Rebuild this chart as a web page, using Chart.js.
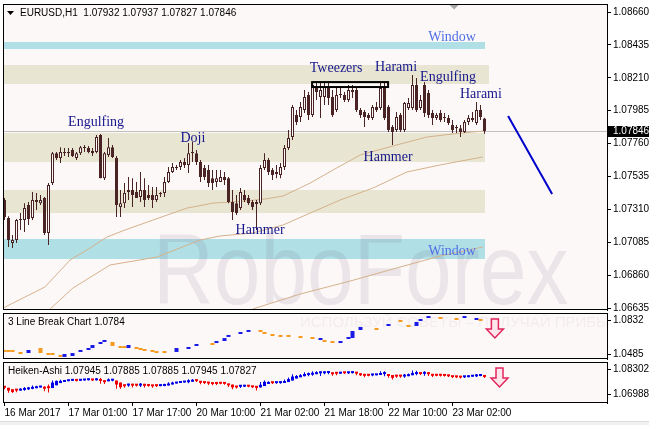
<!DOCTYPE html>
<html>
<head>
<meta charset="utf-8">
<title>EURUSD H1</title>
<script src="https://cdn.jsdelivr.net/npm/chart.js@4.4.1/dist/chart.umd.min.js"></script>
<style>
  html, body { margin: 0; padding: 0; background: #ffffff; }
  #wrap { position: relative; width: 649px; height: 425px; overflow: hidden; }
  #wrap canvas { position: absolute; left: 0; }
  #foot { position: absolute; left: 0; top: 421px; width: 649px; height: 4px; background: #f0f0f0; border-top: 1px solid #dcdcdc; }
</style>
</head>
<body>
<div id="wrap">
  <canvas id="mainChart" width="649" height="318" style="top:0"></canvas>
  <canvas id="lineBreak" width="649" height="56" style="top:309px"></canvas>
  <canvas id="heiken" width="649" height="67" style="top:358px"></canvas>
  <div id="foot"></div>
</div>
<script>
// EURUSD H1 candles, 16 Mar 09:00 .. 23 Mar 05:00
const opens = [
  1.07374, 1.07251, 1.07080, 1.07100, 1.07237, 1.07237, 1.07340, 1.07251, 1.07374, 1.07353,
  1.07388, 1.07148, 1.07490, 1.07695, 1.07661, 1.07702, 1.07695, 1.07716, 1.07661, 1.07695,
  1.07730, 1.07730, 1.07709, 1.07702, 1.07819, 1.07524, 1.07682, 1.07736, 1.07661, 1.07326,
  1.07353, 1.07429, 1.07442, 1.07429, 1.07395, 1.07442, 1.07408, 1.07408, 1.07374, 1.07415,
  1.07422, 1.07497, 1.07566, 1.07593, 1.07600, 1.07634, 1.07613, 1.07702, 1.07695, 1.07634,
  1.07593, 1.07579, 1.07524, 1.07497, 1.07497, 1.07531, 1.07524, 1.07360, 1.07353, 1.07319,
  1.07408, 1.07388, 1.07360, 1.07347, 1.07353, 1.07593, 1.07648, 1.07579, 1.07566, 1.07545,
  1.07600, 1.07730, 1.07805, 1.07955, 1.07942, 1.07990, 1.08092, 1.07955, 1.08147, 1.08079,
  1.08079, 1.08147, 1.08079, 1.07990, 1.08092, 1.08092, 1.08058, 1.08126, 1.08126, 1.07990,
  1.07976, 1.07955, 1.07935, 1.08010, 1.08003, 1.08140, 1.08010, 1.07873, 1.07853, 1.07955,
  1.07853, 1.08003, 1.08003, 1.08161, 1.08003, 1.08161, 1.08106, 1.07969, 1.07935, 1.07969,
  1.07942, 1.07935, 1.07887, 1.07873, 1.07866, 1.07839, 1.07908, 1.07921, 1.07901, 1.07990,
  1.07932
];
const highs = [
  1.07388, 1.07264, 1.07135, 1.07244, 1.07285, 1.07353, 1.07360, 1.07429, 1.07422, 1.07408,
  1.07395, 1.07490, 1.07702, 1.07702, 1.07736, 1.07730, 1.07730, 1.07730, 1.07702, 1.07743,
  1.07750, 1.07743, 1.07730, 1.07819, 1.07826, 1.07702, 1.07798, 1.07750, 1.07675, 1.07442,
  1.07490, 1.07531, 1.07524, 1.07497, 1.07566, 1.07524, 1.07477, 1.07463, 1.07463, 1.07429,
  1.07531, 1.07600, 1.07627, 1.07613, 1.07648, 1.07661, 1.07764, 1.07771, 1.07716, 1.07648,
  1.07613, 1.07613, 1.07579, 1.07579, 1.07579, 1.07566, 1.07531, 1.07442, 1.07408, 1.07456,
  1.07442, 1.07408, 1.07374, 1.07374, 1.07613, 1.07695, 1.07661, 1.07593, 1.07613, 1.07627,
  1.07750, 1.07853, 1.08024, 1.07990, 1.08044, 1.08126, 1.08113, 1.08181, 1.08181, 1.08174,
  1.08181, 1.08181, 1.08126, 1.08140, 1.08140, 1.08113, 1.08161, 1.08161, 1.08140, 1.08003,
  1.07990, 1.07969, 1.08024, 1.08044, 1.08181, 1.08181, 1.08024, 1.07887, 1.07976, 1.07969,
  1.08044, 1.08072, 1.08229, 1.08208, 1.08092, 1.08181, 1.08126, 1.07990, 1.07969, 1.07990,
  1.07969, 1.07955, 1.07921, 1.07887, 1.07887, 1.07921, 1.07955, 1.07976, 1.08044, 1.08024,
  1.07937
];
const lows = [
  1.07237, 1.07053, 1.07046, 1.07080, 1.07169, 1.07155, 1.07203, 1.07237, 1.07306, 1.07340,
  1.07135, 1.07066, 1.07477, 1.07648, 1.07627, 1.07675, 1.07668, 1.07668, 1.07648, 1.07682,
  1.07702, 1.07695, 1.07675, 1.07695, 1.07524, 1.07511, 1.07668, 1.07661, 1.07258, 1.07258,
  1.07319, 1.07374, 1.07326, 1.07388, 1.07360, 1.07326, 1.07374, 1.07319, 1.07360, 1.07395,
  1.07395, 1.07490, 1.07559, 1.07579, 1.07579, 1.07593, 1.07559, 1.07634, 1.07613, 1.07497,
  1.07511, 1.07463, 1.07442, 1.07463, 1.07497, 1.07477, 1.07353, 1.07237, 1.07271, 1.07306,
  1.07360, 1.07340, 1.07306, 1.07169, 1.07340, 1.07579, 1.07545, 1.07511, 1.07524, 1.07524,
  1.07579, 1.07716, 1.07784, 1.07887, 1.07908, 1.07969, 1.07921, 1.07942, 1.08058, 1.07935,
  1.08024, 1.08024, 1.07942, 1.07976, 1.08072, 1.08044, 1.08044, 1.08072, 1.07976, 1.07935,
  1.07873, 1.07921, 1.07921, 1.07976, 1.07990, 1.07921, 1.07839, 1.07750, 1.07839, 1.07839,
  1.07839, 1.07990, 1.07990, 1.07976, 1.07990, 1.07942, 1.07935, 1.07887, 1.07921, 1.07908,
  1.07908, 1.07887, 1.07832, 1.07832, 1.07805, 1.07832, 1.07887, 1.07908, 1.07887, 1.07921,
  1.07827
];
const closes = [
  1.07258, 1.07100, 1.07100, 1.07237, 1.07244, 1.07319, 1.07244, 1.07374, 1.07360, 1.07374,
  1.07148, 1.07477, 1.07695, 1.07661, 1.07702, 1.07695, 1.07702, 1.07675, 1.07695, 1.07736,
  1.07736, 1.07702, 1.07695, 1.07805, 1.07524, 1.07695, 1.07736, 1.07668, 1.07340, 1.07353,
  1.07422, 1.07442, 1.07408, 1.07388, 1.07442, 1.07374, 1.07388, 1.07374, 1.07408, 1.07422,
  1.07497, 1.07566, 1.07600, 1.07600, 1.07634, 1.07613, 1.07695, 1.07695, 1.07634, 1.07531,
  1.07531, 1.07490, 1.07490, 1.07524, 1.07531, 1.07511, 1.07360, 1.07292, 1.07285, 1.07429,
  1.07374, 1.07353, 1.07326, 1.07360, 1.07593, 1.07648, 1.07566, 1.07545, 1.07552, 1.07600,
  1.07730, 1.07798, 1.08010, 1.07908, 1.08010, 1.08079, 1.07955, 1.08161, 1.08113, 1.08126,
  1.08147, 1.08072, 1.07955, 1.08092, 1.08099, 1.08058, 1.08126, 1.08113, 1.07990, 1.07955,
  1.07942, 1.07935, 1.08010, 1.07990, 1.08140, 1.07935, 1.07853, 1.07839, 1.07942, 1.07853,
  1.08037, 1.08037, 1.08161, 1.07990, 1.08058, 1.07969, 1.07955, 1.07935, 1.07955, 1.07921,
  1.07935, 1.07901, 1.07853, 1.07866, 1.07839, 1.07908, 1.07935, 1.07935, 1.07990, 1.07942,
  1.07846
];

// moving averages (bar position, price) read at points along each curve
const maFastBar = [-0.4, 10.1, 16.4, 21.4, 25.6, 30.1, 37.1, 45.6, 52.1, 60.1, 65.1, 69.6, 76.4, 82.1, 88.9, 98.9, 105.6, 113.9, 119.9];
const maFastPrice = [1.06635, 1.06779, 1.06964, 1.07046, 1.07121, 1.07169, 1.07237, 1.07319, 1.07353, 1.07367, 1.07381, 1.07401, 1.07490, 1.07579, 1.07682, 1.07757, 1.07805, 1.07832, 1.07846];
const maMidBar = [11.4, 17.1, 26.4, 38.1, 48.9, 53.9, 62.1, 69.6, 76.4, 83.9, 92.1, 100.6, 108.9, 119.6];
const maMidPrice = [1.06629, 1.06772, 1.06930, 1.06984, 1.07101, 1.07128, 1.07149, 1.07203, 1.07285, 1.07374, 1.07456, 1.07566, 1.07614, 1.07669];
const maSlowBar = [62.1, 73.9, 86.4, 98.9, 108.9, 119.6];
const maSlowPrice = [1.06629, 1.06731, 1.06820, 1.06916, 1.06991, 1.07053];

// support / resistance zones and windows
const bandLow = [1.08407, 1.08167, 1.07634, 1.07285, 1.06970];
const bandHigh = [1.08455, 1.08297, 1.07832, 1.07442, 1.07107];
const bandEnd = [120, 121, 120, 120, 120];
const bandKind = ['window', 'zone', 'zone', 'zone', 'window'];

// pattern captions
const patternNames = ['Window', 'Tweezers', 'Harami', 'Engulfing', 'Harami', 'Engulfing', 'Doji', 'Hammer', 'Hammer', 'Window'];
const patternBar = [111.9, 82.9, 97.9, 110.9, 119.1, 22.9, 47.1, 63.9, 95.9, 111.9];
const patternPrice = [1.08489, 1.08277, 1.08284, 1.08215, 1.08099, 1.07908, 1.07798, 1.07169, 1.07668, 1.07025];

// tweezers frame and forecast line
const tweezersBar = [76.9, 95.9];
const tweezersPrice = [1.08181, 1.08147];
const trendBar = [125.9, 136.9];
const trendPrice = [1.07949, 1.07415];

// 3 Line Break bricks
const lbBar = [0, 1, 2, 4, 6, 9, 11, 12, 14, 15, 17, 19, 21, 22, 24, 25, 27, 29, 30, 31,
  33, 34, 35, 37, 38, 40, 43, 46, 48, 52, 53, 55, 56, 59, 61, 64, 65, 67, 69, 71,
  74, 77, 79, 80, 82, 84, 86, 87, 89, 93, 96, 99, 101, 103, 104, 106, 109, 113, 115, 118, 119];
const lbHigh = [1.0516, 1.0516, 1.0516, 1.0495, 1.0526, 1.0546, 1.0485, 1.0485, 1.0465, 1.0485,
  1.0495, 1.0526, 1.0546, 1.0577, 1.0608, 1.0628, 1.0608, 1.0557, 1.0557, 1.0577,
  1.0546, 1.0536, 1.0526, 1.0516, 1.0506, 1.0506, 1.0546, 1.0557, 1.0577, 1.0587,
  1.0608, 1.0648, 1.0669, 1.0699, 1.0720, 1.0730, 1.0699, 1.0679, 1.0669, 1.0669,
  1.0659, 1.0648, 1.0638, 1.0618, 1.0608, 1.0618, 1.0648, 1.0720, 1.0761, 1.0750,
  1.0781, 1.0822, 1.0771, 1.0812, 1.0832, 1.0863, 1.0852, 1.0842, 1.0863, 1.0852, 1.0832];
const lbLow = [1.0506, 1.0506, 1.0506, 1.0485, 1.0495, 1.0495, 1.0475, 1.0475, 1.0455, 1.0455,
  1.0465, 1.0506, 1.0526, 1.0546, 1.0587, 1.0608, 1.0567, 1.0546, 1.0546, 1.0546,
  1.0536, 1.0526, 1.0516, 1.0506, 1.0495, 1.0495, 1.0506, 1.0536, 1.0567, 1.0577,
  1.0597, 1.0618, 1.0659, 1.0689, 1.0710, 1.0710, 1.0689, 1.0669, 1.0659, 1.0659,
  1.0648, 1.0638, 1.0628, 1.0608, 1.0597, 1.0597, 1.0638, 1.0648, 1.0730, 1.0730,
  1.0771, 1.0812, 1.0761, 1.0771, 1.0822, 1.0852, 1.0842, 1.0832, 1.0852, 1.0832, 1.0822];
const lbUp = [0, 0, 0, 0, 1, 0, 0, 0, 0, 1, 1, 1, 1, 1, 1, 1, 0, 0, 0, 1,
  0, 0, 0, 0, 0, 0, 1, 1, 1, 0, 1, 1, 1, 1, 1, 0, 0, 0, 0, 0,
  0, 0, 1, 0, 0, 1, 1, 1, 1, 0, 1, 0, 0, 1, 1, 1, 0, 0, 1, 1, 0];

// axes
const timeBars = [0, 16, 32, 48, 64, 80, 96, 112];
const timeLabels = ['16 Mar 2017', '17 Mar 01:00', '17 Mar 17:00', '20 Mar 10:00', '21 Mar 02:00', '21 Mar 18:00', '22 Mar 10:00', '23 Mar 02:00'];
const priceTicks = [1.08660, 1.08435, 1.08210, 1.07985, 1.07760, 1.07535, 1.07310, 1.07085, 1.06860, 1.06635];
const lbTicks = [1.0832, 1.0485];
const haTicks = [1.08302, 1.06988];

const FONT = "'Liberation Sans', Arial, sans-serif";
const SERIF = "'Liberation Serif', 'Times New Roman', serif";
const BG = '#fdf8f8';
const DARK = '#4a2424';
const TAN = '#d4b28c';
const WATERMARK = 'rgba(110,100,130,0.12)';

Chart.defaults.font.family = FONT;

// heiken-ashi from the candles above
const haOpen = [], haClose = [], haHigh = [], haLow = [];
for (let i = 0; i < closes.length; i++) {
  const c = (opens[i] + highs[i] + lows[i] + closes[i]) / 4;
  const o = i === 0 ? (opens[0] + closes[0]) / 2 : (haOpen[i - 1] + haClose[i - 1]) / 2;
  haOpen.push(o);
  haClose.push(c);
  haHigh.push(Math.max(highs[i], o, c));
  haLow.push(Math.min(lows[i], o, c));
}

const bars = closes.map((_, i) => i);

function xAxis(show) {
  return {
    type: 'linear', min: -0.375, max: 150.625, offset: false, display: show,
    afterFit(a) { a.paddingLeft = 0; a.paddingRight = 0; if (show) a.height = 22; },
    afterBuildTicks(a) { a.ticks = timeBars.map(v => ({ value: v })); },
    grid: { offset: false, drawOnChartArea: false, drawTicks: true, tickLength: 3, color: '#000' },
    border: { display: false },
    ticks: {
      align: 'start', padding: 1, color: '#000', font: { size: 10 }, maxRotation: 0, minRotation: 0, autoSkip: false,
      callback: (v, i) => timeLabels[i]
    }
  };
}

function yAxis(min, max, list, dec) {
  return {
    type: 'linear', position: 'right', min, max,
    afterFit(a) { a.width = 42; a.paddingTop = 0; a.paddingBottom = 0; },
    afterBuildTicks(a) { a.ticks = list.map(v => ({ value: v })); },
    grid: { drawOnChartArea: false, tickLength: 4, color: '#000' },
    border: { display: true, color: '#000' },
    ticks: { padding: 2, color: '#000', font: { size: 10 }, autoSkip: false, callback: v => v.toFixed(dec) }
  };
}

function baseOptions(pad, xShow, yMin, yMax, yList, dec) {
  return {
    responsive: false, animation: false, events: [],
    layout: { padding: pad },
    plugins: { legend: { display: false }, tooltip: { enabled: false } },
    scales: { x: xAxis(xShow), y: yAxis(yMin, yMax, yList, dec) }
  };
}

function drawDownArrow(ctx, cx, top) {
  ctx.beginPath();
  ctx.moveTo(cx - 3.5, top);
  ctx.lineTo(cx + 3.5, top);
  ctx.lineTo(cx + 3.5, top + 10);
  ctx.lineTo(cx + 8.5, top + 10);
  ctx.lineTo(cx, top + 19);
  ctx.lineTo(cx - 8.5, top + 10);
  ctx.lineTo(cx - 3.5, top + 10);
  ctx.closePath();
  ctx.fillStyle = '#fce6ec';
  ctx.fill();
  ctx.strokeStyle = '#e2265c';
  ctx.lineWidth = 1.5;
  ctx.stroke();
}

const mainDeco = {
  id: 'mainDeco',
  beforeDatasetsDraw(chart) {
    const { ctx, chartArea: a, scales: { x, y } } = chart;
    ctx.save();
    ctx.fillStyle = BG;
    ctx.fillRect(a.left, a.top, a.width, a.height);
    ctx.beginPath();
    ctx.rect(a.left, a.top, a.width, a.height);
    ctx.clip();
    bandLow.forEach((lo, k) => {
      const top = Math.round(y.getPixelForValue(bandHigh[k]));
      const bot = Math.round(y.getPixelForValue(lo));
      const right = Math.round(x.getPixelForValue(bandEnd[k]));
      ctx.fillStyle = bandKind[k] === 'window' ? '#b0dfe5' : '#e8e6d3';
      ctx.fillRect(a.left, top, right - a.left, bot - top);
    });
    // watermark
    ctx.fillStyle = WATERMARK;
    ctx.font = '100px ' + FONT;
    ctx.textBaseline = 'alphabetic';
    ctx.save();
    ctx.translate(a.left + 150, a.top + 300);
    ctx.scale(0.84, 1);
    ctx.fillText('RoboForex', 0, 0);
    ctx.restore();
    // current bid line
    const py = Math.floor(y.getPixelForValue(closes[closes.length - 1])) + 0.5;
    ctx.strokeStyle = '#c0c0c0';
    ctx.lineWidth = 1;
    ctx.beginPath();
    ctx.moveTo(a.left, py);
    ctx.lineTo(a.right, py);
    ctx.stroke();
    ctx.restore();
  },
  afterDatasetsDraw(chart) {
    const { ctx, chartArea: a, scales: { x, y } } = chart;
    ctx.save();
    ctx.beginPath();
    ctx.rect(a.left, a.top, a.width, a.height);
    ctx.clip();
    // tweezers frame
    const fx1 = x.getPixelForValue(tweezersBar[0]), fx2 = x.getPixelForValue(tweezersBar[1]);
    const fy1 = y.getPixelForValue(tweezersPrice[0]), fy2 = y.getPixelForValue(tweezersPrice[1]);
    ctx.strokeStyle = '#000';
    ctx.lineWidth = 2;
    ctx.strokeRect(fx1, fy1, fx2 - fx1, fy2 - fy1);
    // captions
    ctx.font = '14px ' + SERIF;
    ctx.textAlign = 'center';
    ctx.textBaseline = 'middle';
    patternNames.forEach((name, k) => {
      ctx.fillStyle = name === 'Window' ? '#4f6fe6' : '#16168c';
      ctx.fillText(name, x.getPixelForValue(patternBar[k]), y.getPixelForValue(patternPrice[k]));
    });
    ctx.restore();
  },
  afterDraw(chart) {
    const { ctx, chartArea: a, scales: { x, y } } = chart;
    ctx.save();
    ctx.strokeStyle = '#000';
    ctx.lineWidth = 1;
    ctx.strokeRect(a.left + 0.5, a.top + 0.5, a.width, a.height - 1);
    // last price tag
    const last = closes[closes.length - 1];
    const py = y.getPixelForValue(last);
    ctx.fillStyle = '#000';
    ctx.fillRect(a.right + 1, Math.round(py) - 5, 42, 11);
    ctx.fillStyle = '#fff';
    ctx.font = '10px ' + FONT;
    ctx.textBaseline = 'middle';
    ctx.fillText(last.toFixed(5), a.right + 6, Math.round(py) + 0.5);
    // title
    ctx.fillStyle = '#000';
    ctx.beginPath();
    ctx.moveTo(a.left + 4, a.top + 7);
    ctx.lineTo(a.left + 11, a.top + 7);
    ctx.lineTo(a.left + 7.5, a.top + 11);
    ctx.closePath();
    ctx.fill();
    ctx.fillText('EURUSD,H1  1.07932 1.07937 1.07827 1.07846', a.left + 17, a.top + 9);
    // chart shift marker
    const mx = x.getPixelForValue(112.4);
    ctx.fillStyle = '#a8a8a8';
    ctx.beginPath();
    ctx.moveTo(mx - 4.5, a.top + 1);
    ctx.lineTo(mx + 4.5, a.top + 1);
    ctx.lineTo(mx, a.top + 5.5);
    ctx.closePath();
    ctx.fill();
    ctx.restore();
  }
};

function panelDeco(id, title, arrowBar, arrowTop, motto) {
  return {
    id,
    beforeDatasetsDraw(chart) {
      const { ctx, chartArea: a } = chart;
      ctx.save();
      ctx.fillStyle = BG;
      ctx.fillRect(a.left, a.top, a.width, a.height);
      if (motto) {
        ctx.beginPath();
        ctx.rect(a.left, a.top, a.width, a.height);
        ctx.clip();
        ctx.fillStyle = 'rgba(110,100,130,0.08)';
        ctx.font = '15px ' + FONT;
        ctx.textBaseline = 'middle';
        ctx.fillText(motto, a.left + 297, a.top + 10);
      }
      ctx.restore();
    },
    afterDraw(chart) {
      const { ctx, chartArea: a, scales: { x, y } } = chart;
      ctx.save();
      ctx.strokeStyle = '#000';
      ctx.lineWidth = 1;
      ctx.strokeRect(a.left + 0.5, a.top + 0.5, a.width, a.height - 1);
      ctx.fillStyle = '#000';
      ctx.font = '10px ' + FONT;
      ctx.textBaseline = 'middle';
      ctx.fillText(title, a.left + 5, a.top + 9.5);
      drawDownArrow(ctx, x.getPixelForValue(arrowBar), y.getPixelForValue(arrowTop));
      ctx.restore();
    }
  };
}

// main price chart
new Chart(document.getElementById('mainChart'), {
  type: 'bar',
  data: {
    datasets: [
      { type: 'line', data: maFastBar.map((b, k) => ({ x: b, y: maFastPrice[k] })), borderColor: TAN, borderWidth: 1, pointRadius: 0, order: 6 },
      { type: 'line', data: maMidBar.map((b, k) => ({ x: b, y: maMidPrice[k] })), borderColor: TAN, borderWidth: 1, pointRadius: 0, order: 6 },
      { type: 'line', data: maSlowBar.map((b, k) => ({ x: b, y: maSlowPrice[k] })), borderColor: TAN, borderWidth: 1, pointRadius: 0, order: 6 },
      {
        data: bars.map(i => ({ x: i, y: [lows[i], highs[i]] })),
        backgroundColor: DARK, barThickness: 1, grouped: false, inflateAmount: 0, order: 3
      },
      {
        data: bars.map(i => ({ x: i, y: [opens[i], closes[i]] })),
        backgroundColor: bars.map(i => closes[i] > opens[i] ? BG : DARK),
        borderColor: DARK, borderWidth: 1, borderSkipped: false,
        barThickness: 3, minBarLength: 1, grouped: false, inflateAmount: 0, order: 2
      },
      { type: 'line', data: trendBar.map((b, k) => ({ x: b, y: trendPrice[k] })), borderColor: '#0000cc', borderWidth: 2, pointRadius: 0, order: 1 }
    ]
  },
  options: baseOptions({ left: 3, right: 0, top: 4, bottom: 8 }, false, 1.06622, 1.08715, priceTicks, 5),
  plugins: [mainDeco]
});

// 3 line break panel
new Chart(document.getElementById('lineBreak'), {
  type: 'bar',
  data: {
    datasets: [{
      data: lbBar.map((b, k) => ({ x: b, y: [lbLow[k], lbHigh[k]] })),
      backgroundColor: lbUp.map(u => u ? '#1a1ae6' : '#f59a1e'),
      barThickness: 4, minBarLength: 2, grouped: false, inflateAmount: 0
    }]
  },
  options: baseOptions({ left: 3, right: 0, top: 4, bottom: 6 }, false, 1.04342, 1.09034, lbTicks, 4),
  plugins: [panelDeco('lbDeco', '3 Line Break Chart 1.0784', 122.6, 1.0842, 'ИСПОЛЬЗУЙ СОВЕТЫ – ПОЛУЧАЙ ПРИБЫЛЬ')]
});

// heiken-ashi panel
new Chart(document.getElementById('heiken'), {
  type: 'bar',
  data: {
    datasets: [
      {
        data: bars.map(i => ({ x: i, y: [haLow[i], haHigh[i]] })),
        backgroundColor: bars.map(i => haClose[i] >= haOpen[i] ? '#0000e6' : '#f00000'),
        barThickness: 1, grouped: false, inflateAmount: 0, order: 2
      },
      {
        data: bars.map(i => ({ x: i, y: [haOpen[i], haClose[i]] })),
        backgroundColor: bars.map(i => haClose[i] >= haOpen[i] ? '#0000e6' : '#f00000'),
        barThickness: 3, minBarLength: 2, grouped: false, inflateAmount: 0, order: 1
      }
    ]
  },
  options: baseOptions({ left: 3, right: 0, top: 4, bottom: 0 }, true, 1.06515, 1.08670, haTicks, 5),
  plugins: [panelDeco('haDeco', 'Heiken-Ashi 1.07945 1.07885 1.07885 1.07945 1.07827', 123.75, 1.08355, null)]
});
</script>
</body>
</html>
